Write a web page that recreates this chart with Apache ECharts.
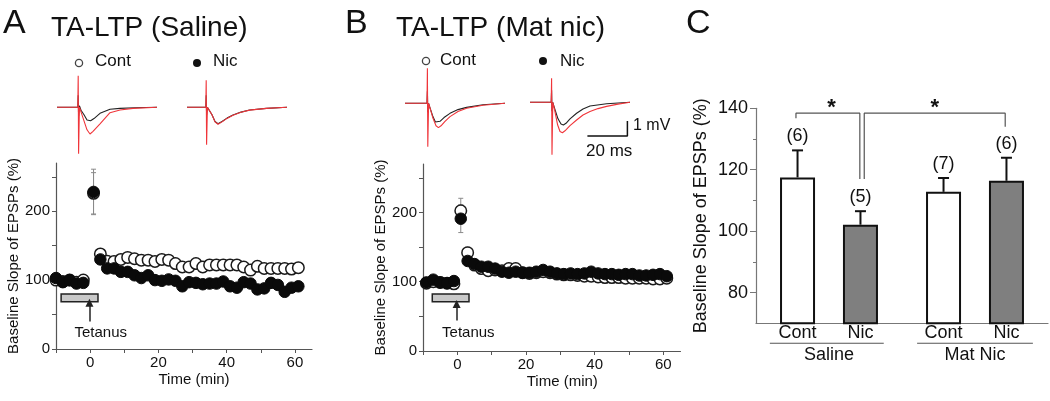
<!DOCTYPE html>
<html><head><meta charset="utf-8">
<script src="https://cdn.jsdelivr.net/npm/echarts@6/dist/echarts.min.js"></script>
<style>html,body{margin:0;padding:0;background:#fff}#c{width:1050px;height:401px}</style>
</head><body><div id="c"></div>
<script>
// ---------- DATA ----------
const timesA = [-10,-8,-6,-4,-2,1,3,5,7,9,11,13,15,17,19,21,23,25,27,29,31,33,35,37,39,41,43,45,47,49,51,53,55,57,59,61];
const contA = [100,98,100,97,100,226,138,127.5,127,130,133,131,129,129,127,130,129,124,119,119,124,119,122,122,122,122,122,119,114.5,120,117,117,117,117,116,118];
const contAsem = [3,3,3,3,3,30,6,5,5,5,5,5,5,5,5,5,5,5,5,5,5,5,5,5,6,6,6,6,6,6,6,6,6,6,6,6];
const nicA = [103,97,100,95,96,228,130,117,117,112,112,107,103,107,100,99,101,99,91,97,96,94,95,95,98,91,89,97,95,86.5,88,96,93,83,89,91];
const nicAsem = [4,4,4,4,4,33,6,6,6,5,5,5,5,5,5,5,5,5,5,5,5,5,5,5,5,5,6,5,5,6,5,5,5,6,5,5];

const timesB = [-9,-7,-5,-3,-1,1,3,5,7,9,11,13,15,17,19,21,23,25,27,29,31,33,35,37,39,41,43,45,47,49,51,53,55,57,59,61];
const contB = [98,100,99,98,97,202.5,142,124,119,116,117,116,119,119,113,112,113,114.5,113,111,110,110,109,108,108,107,106,106,106,105,105,105,105,104,104,105];
const contBsem = [3,3,3,3,3,18,8,4,3,3,3,3,3,3,3,3,3,3,3,3,3,3,3,3,3,3,3,3,3,3,3,3,3,3,3,3];
const nicB = [99,103,99,98,101,191,130,125.5,121.7,121.7,119,114.5,113,114.5,113,113,114.5,117,114.5,112,111,112,111,112,114.5,112,111,111,110,111,111,109,109,110,111,108];
const nicBsem = [3,3,3,3,3,20,5,4,3,3,3,3,3,3,3,3,3,3,3,3,3,3,3,3,3,3,3,3,3,3,3,3,3,3,3,3];

// traces: [time (ms), amplitude (mV)]
const traceAContBlack = [[0,0],[10.4,0],[10.6,0.8],[10.8,-0.6],[11.2,0.1],[12,-0.2],[13.5,-0.5],[15,-0.85],[16.8,-0.9],[18.5,-0.75],[21.5,-0.4],[26.5,-0.13],[31.5,-0.07],[39,-0.03],[50,0]];
const traceAContRed = [[0,0],[10.4,0],[10.6,2.1],[10.8,-3.1],[11.2,0],[12,-0.3],[13.5,-0.9],[15,-1.5],[16.5,-1.78],[18,-1.6],[21.5,-1.1],[26.5,-0.36],[31.5,-0.18],[38,-0.07],[50,0]];
const traceANicBlack = [[0,0],[9.4,0],[9.6,0.8],[9.8,-0.5],[10.2,0],[11,-0.1],[12.5,-0.5],[14,-0.95],[15.5,-1.1],[17.5,-0.95],[20,-0.72],[23,-0.51],[27,-0.32],[31.3,-0.18],[39.7,-0.07],[50,0]];
const traceANicRed = [[0,0],[9.4,0],[9.6,1.8],[9.8,-2.5],[10.2,0],[11,-0.1],[12.5,-0.5],[14,-0.97],[15.5,-1.13],[17.5,-0.97],[20,-0.74],[23,-0.53],[27,-0.33],[31.3,-0.19],[39.7,-0.07],[50,0]];
const traceBContBlack = [[0,0],[11,0],[11.2,0.8],[11.4,-0.6],[11.8,0],[12.5,-0.3],[14,-0.9],[15.2,-1.25],[16.2,-1.33],[17.5,-1.2],[19.5,-0.95],[22.5,-0.67],[26.5,-0.42],[30.8,-0.27],[39,-0.1],[50,0]];
const traceBContRed = [[0,0],[11,0],[11.2,2.33],[11.4,-2.9],[11.8,0],[12.5,-0.3],[14,-1.0],[15.5,-1.5],[16.7,-1.62],[18,-1.5],[20,-1.2],[22.5,-0.89],[26.5,-0.55],[30.8,-0.33],[39,-0.13],[50,0]];
const traceBNicBlack = [[0,0],[10.6,0],[10.8,0.8],[11,-0.6],[11.4,0],[12.3,-0.4],[14,-1.1],[15.5,-1.45],[16.7,-1.51],[18,-1.4],[20,-1.1],[23.3,-0.73],[26.5,-0.45],[30,-0.25],[38.3,-0.1],[50,0]];
const traceBNicRed = [[0,0],[10.6,0],[10.8,1.6],[11,-3.5],[11.4,0],[12.3,-0.5],[13.8,-1.5],[15,-1.95],[16.2,-2.03],[17.5,-1.9],[20,-1.55],[23.3,-1.18],[26.5,-0.85],[30,-0.62],[34,-0.42],[38.3,-0.27],[44,-0.12],[50,0]];

// panel C
const condC = ['Cont','Nic','Cont','Nic'];
const groupC = ['Saline','Mat Nic'];
const meanC = [117.5,102.1,112.8,116.4];
const semC = [8.8,4.4,4.5,7.5];
const nC = [6,5,7,6];

// ---------- BUILD ----------
const FONT = "'Liberation Sans', Arial, sans-serif";
const TXT = '#111';
const pairs = (xs, ys) => xs.map((x, i) => [x, ys[i]]);
const triples = (xs, ys, es) => xs.map((x, i) => [x, ys[i], es[i]]);

function errItem(color, lw, cap, upOnly) {
  return function (params, api) {
    const x = api.value(0), y = api.value(1), e = api.value(2);
    const hi = api.coord([x, y + e]);
    const lo = api.coord([x, upOnly ? y : y - e]);
    const st = {stroke: color, lineWidth: lw};
    const ch = [
      {type: 'line', shape: {x1: hi[0], y1: hi[1], x2: lo[0], y2: lo[1]}, style: st},
      {type: 'line', shape: {x1: hi[0] - cap, y1: hi[1], x2: hi[0] + cap, y2: hi[1]}, style: st}
    ];
    if (!upOnly) ch.push({type: 'line', shape: {x1: lo[0] - cap, y1: lo[1], x2: lo[0] + cap, y2: lo[1]}, style: st});
    return {type: 'group', children: ch};
  };
}

const axisLineAB = {show: true, onZero: false, lineStyle: {color: '#555', width: 1.2}};
function timeAxis(grid, pad) {
  return {
    type: 'value', gridIndex: grid, min: -10, max: 65,
    axisLine: axisLineAB,
    axisTick: {show: true, customValues: [-10,0,10,20,30,40,50,60], length: 4, lineStyle: {color: '#555'}},
    axisLabel: {customValues: [0,20,40,60], fontSize: 15, color: TXT, fontFamily: FONT, margin: 6},
    splitLine: {show: false},
    name: 'Time (min)', nameLocation: 'middle', nameGap: 23,
    nameTextStyle: {fontSize: 15, color: TXT, fontFamily: FONT, padding: [0, 0, 0, pad]}
  };
}
function slopeAxis(grid, gap) {
  return {
    type: 'value', gridIndex: grid, min: 0, max: 270,
    axisLine: axisLineAB,
    axisTick: {show: true, customValues: [0,50,100,150,200,250], length: 4, lineStyle: {color: '#555'}},
    axisLabel: {customValues: [0,100,200], fontSize: 15, color: TXT, fontFamily: FONT, margin: 6},
    splitLine: {show: false},
    name: 'Baseline Slope of EPSPs (%)', nameLocation: 'middle', nameGap: gap, nameRotate: 90,
    nameTextStyle: {fontSize: 15, color: TXT, fontFamily: FONT}
  };
}
const hiddenX = g => ({type: 'value', gridIndex: g, min: 0, max: 50, show: false});
const hiddenY = g => ({type: 'value', gridIndex: g, min: -4, max: 3, show: false});

const posC = [0.66, 1.66, 2.98, 3.98];
const groupPos = [1.16, 3.48];
const labelAt = (arr, pos) => v => { const i = pos.findIndex(p => Math.abs(p - v) < 1e-6); return i >= 0 ? arr[i] : ''; };

function traceSeries(grid, data, color, z) {
  return {type: 'line', xAxisIndex: grid, yAxisIndex: grid, data: data, symbol: 'none',
    lineStyle: {color: color, width: 1.1}, z: z, silent: true, animation: false};
}
function scatterSeries(grid, data, filled, z, extra) {
  return Object.assign({
    type: 'scatter', xAxisIndex: grid, yAxisIndex: grid, data: data, symbol: 'circle', symbolSize: 11.5,
    itemStyle: filled ? {color: '#0a0a0a', borderColor: '#0a0a0a', borderWidth: 1, opacity: 1}
                      : {color: '#fff', borderColor: '#1a1a1a', borderWidth: 1.5, opacity: 1},
    z: z, clip: false, silent: true
  }, extra || {});
}
function errSeries(grid, data) {
  return {type: 'custom', xAxisIndex: grid, yAxisIndex: grid, data: data, renderItem: errItem('#8a8a8a', 1, 2.5, false),
    encode: {x: 0, y: 1}, z: 1, silent: true, clip: false};
}
function tetanus(box, arrowX, arrowY, textPos) {
  return {
    markArea: {silent: true, data: [[{coord: [box[0], box[2]]}, {coord: [box[1], box[3]]}]],
      itemStyle: {color: '#c9c9c9', borderColor: '#222', borderWidth: 1.5, opacity: 1}, label: {show: false}},
    markLine: {silent: true, symbol: ['none', 'triangle'], symbolSize: 8, animation: false,
      data: [[{coord: [arrowX, arrowY[0]]}, {coord: [arrowX, arrowY[1]]}]],
      lineStyle: {color: '#222', width: 1.5, type: 'solid'}, label: {show: false}},
    markPoint: {silent: true, symbol: 'circle', symbolSize: 0,
      data: [{coord: textPos}],
      label: {show: true, position: 'inside', formatter: 'Tetanus', fontSize: 15, color: TXT, fontFamily: FONT}}
  };
}
const txtLabel = (size, fmt, pos, dist) => ({show: true, position: pos, distance: dist, fontSize: size, color: TXT,
  fontFamily: FONT, formatter: fmt, opacity: 1});

const option = {
  animation: false,
  backgroundColor: '#fff',
  textStyle: {fontFamily: FONT},
  grid: [
    {left: 56, top: 163, width: 256, height: 186, outerBoundsMode: 'none'},
    {left: 423, top: 164, width: 257.5, height: 187, outerBoundsMode: 'none'},
    {left: 756, top: 108.3, width: 292, height: 215, outerBoundsMode: 'none'},
    {left: 57, top: 62.3, width: 100, height: 105, outerBoundsMode: 'none'},
    {left: 187, top: 62.3, width: 100, height: 105, outerBoundsMode: 'none'},
    {left: 405, top: 58.3, width: 100, height: 105, outerBoundsMode: 'none'},
    {left: 530, top: 57.3, width: 100, height: 105, outerBoundsMode: 'none'}
  ],
  xAxis: [
    timeAxis(0, 20),
    timeAxis(1, 21),
    {type: 'value', gridIndex: 2, min: 0, max: 4.64,
      axisLine: {show: true, onZero: false, lineStyle: {color: '#777', width: 1.2}},
      axisTick: {show: false}, splitLine: {show: false},
      axisLabel: {customValues: posC, formatter: labelAt(condC, posC), fontSize: 18, color: TXT, fontFamily: FONT, margin: 1}},
    hiddenX(3), hiddenX(4), hiddenX(5), hiddenX(6),
    {type: 'value', gridIndex: 2, min: 0, max: 4.64, position: 'bottom', offset: 22,
      axisLine: {show: false}, axisTick: {show: false}, splitLine: {show: false},
      axisLabel: {customValues: groupPos, formatter: labelAt(groupC, groupPos), fontSize: 18, color: TXT, fontFamily: FONT, margin: 1}}
  ],
  yAxis: [
    slopeAxis(0, 34),
    slopeAxis(1, 33),
    {type: 'value', gridIndex: 2, min: 70, max: 140,
      axisLine: {show: true, onZero: false, lineStyle: {color: '#777', width: 1.2}},
      axisTick: {show: true, customValues: [80,100,120,140], length: 6, lineStyle: {color: '#777'}},
      axisLabel: {customValues: [80,100,120,140], fontSize: 18, color: TXT, fontFamily: FONT, margin: 8},
      splitLine: {show: false},
      name: 'Baseline Slope of EPSPs (%)', nameLocation: 'middle', nameGap: 46, nameRotate: 90,
      nameTextStyle: {fontSize: 18, color: TXT, fontFamily: FONT}},
    hiddenY(3), hiddenY(4), hiddenY(5), hiddenY(6),
    {type: 'value', gridIndex: 2, min: 70, max: 140, position: 'left',
      axisLine: {show: false}, axisLabel: {show: false}, splitLine: {show: false},
      axisTick: {show: true, customValues: [90,110,130], length: 3, lineStyle: {color: '#777'}}}
  ],
  series: [
    // panel A
    errSeries(0, triples(timesA, contA, contAsem)),
    errSeries(0, triples(timesA, nicA, nicAsem)),
    scatterSeries(0, pairs(timesA, contA), false, 2, tetanus([-8.5, 2.3, 80, 68.7], -0.2, [40, 67], [3.1, 24])),
    scatterSeries(0, pairs(timesA, nicA), true, 3),
    // panel B
    errSeries(1, triples(timesB, contB, contBsem)),
    errSeries(1, triples(timesB, nicB, nicBsem)),
    scatterSeries(1, pairs(timesB, contB), false, 2, tetanus([-7.3, 3.4, 82.3, 71.1], -0.2, [44, 68], [3.2, 26])),
    scatterSeries(1, pairs(timesB, nicB), true, 3),
    // traces
    traceSeries(3, traceAContBlack, '#222', 2), traceSeries(3, traceAContRed, '#f0353a', 3),
    traceSeries(4, traceANicBlack, '#222', 2), traceSeries(4, traceANicRed, '#f0353a', 3),
    traceSeries(5, traceBContBlack, '#222', 2), traceSeries(5, traceBContRed, '#f0353a', 3),
    traceSeries(6, traceBNicBlack, '#222', 2), traceSeries(6, traceBNicRed, '#f0353a', 3),
    // scale bar (20 ms, 1 mV) in trace units
    {type: 'line', xAxisIndex: 6, yAxisIndex: 6, data: [[28.7,-2.25],[48.7,-2.25],[48.7,-1.25]], symbol: 'none',
      lineStyle: {color: '#111', width: 1.5}, silent: true, clip: false},
    // panel C bars
    {type: 'bar', xAxisIndex: 2, yAxisIndex: 2, barWidth: 35, silent: true,
      data: meanC.map((v, i) => ({value: [posC[i], v], itemStyle: {color: condC[i] === 'Nic' ? '#7f7f7f' : '#ffffff'}})),
      itemStyle: {borderColor: '#111', borderWidth: 2, opacity: 1}, z: 2},
    {type: 'custom', xAxisIndex: 2, yAxisIndex: 2, data: meanC.map((v, i) => [posC[i], v, semC[i]]),
      renderItem: errItem('#111', 2, 5.5, true), encode: {x: 0, y: 1}, z: 1, silent: true},
    {type: 'scatter', xAxisIndex: 2, yAxisIndex: 2, symbolSize: 0, silent: true, clip: false,
      itemStyle: {opacity: 1},
      data: meanC.map((v, i) => [posC[i], v + semC[i]]),
      label: txtLabel(18, p => '(' + nC[p.dataIndex] + ')', 'top', 5)},
    // significance brackets
    {type: 'line', xAxisIndex: 2, yAxisIndex: 2, symbol: 'none', silent: true, clip: false,
      data: [[0.635,136.8],[0.635,138.4],[1.65,138.4],[1.65,117]], lineStyle: {color: '#555', width: 1.2}},
    {type: 'line', xAxisIndex: 2, yAxisIndex: 2, symbol: 'none', silent: true, clip: false,
      data: [[1.72,117],[1.72,138.4],[3.96,138.4],[3.96,134]], lineStyle: {color: '#555', width: 1.2}},
    {type: 'scatter', xAxisIndex: 2, yAxisIndex: 2, symbolSize: 0, silent: true, clip: false,
      itemStyle: {opacity: 1},
      data: [[1.2,140.2],[2.84,140.2]],
      label: Object.assign(txtLabel(22, '*', 'inside', 0), {fontWeight: 'bold'})},
    // group underlines
    {type: 'line', xAxisIndex: 2, yAxisIndex: 2, symbol: 'none', silent: true, clip: false,
      data: [[0.22,63.5],[2.03,63.5]], lineStyle: {color: '#555', width: 1.2}},
    {type: 'line', xAxisIndex: 2, yAxisIndex: 2, symbol: 'none', silent: true, clip: false,
      data: [[2.56,63.5],[4.4,63.5]], lineStyle: {color: '#555', width: 1.2}}
  ],
  graphic: [
    {type: 'text', left: 3, top: 7, style: {text: 'A', fontSize: 34, fill: TXT, fontFamily: FONT}},
    {type: 'text', left: 51, top: 14, style: {text: 'TA-LTP (Saline)', fontSize: 28, fill: TXT, fontFamily: FONT}},
    {type: 'text', left: 345, top: 7, style: {text: 'B', fontSize: 34, fill: TXT, fontFamily: FONT}},
    {type: 'text', left: 396, top: 14, style: {text: 'TA-LTP (Mat nic)', fontSize: 28, fill: TXT, fontFamily: FONT}},
    {type: 'text', left: 686, top: 7, style: {text: 'C', fontSize: 34, fill: TXT, fontFamily: FONT}},
    {type: 'circle', shape: {cx: 79, cy: 63, r: 3.6}, style: {fill: '#fff', stroke: '#444', lineWidth: 1.3}},
    {type: 'text', left: 95, top: 53, style: {text: 'Cont', fontSize: 17, fill: TXT, fontFamily: FONT}},
    {type: 'circle', shape: {cx: 197, cy: 63, r: 4}, style: {fill: '#111'}},
    {type: 'text', left: 213, top: 53, style: {text: 'Nic', fontSize: 17, fill: TXT, fontFamily: FONT}},
    {type: 'circle', shape: {cx: 426, cy: 61, r: 3.6}, style: {fill: '#fff', stroke: '#444', lineWidth: 1.3}},
    {type: 'text', left: 440, top: 52, style: {text: 'Cont', fontSize: 17, fill: TXT, fontFamily: FONT}},
    {type: 'circle', shape: {cx: 543, cy: 61, r: 4}, style: {fill: '#111'}},
    {type: 'text', left: 560, top: 53, style: {text: 'Nic', fontSize: 17, fill: TXT, fontFamily: FONT}},
    {type: 'text', left: 633, top: 118, style: {text: '1 mV', fontSize: 16, fill: TXT, fontFamily: FONT}},
    {type: 'text', left: 586, top: 143, style: {text: '20 ms', fontSize: 17, fill: TXT, fontFamily: FONT}}
  ]
};

const chart = echarts.init(document.getElementById('c'), null, {renderer: 'canvas'});
chart.setOption(option);
</script>
</body></html>
